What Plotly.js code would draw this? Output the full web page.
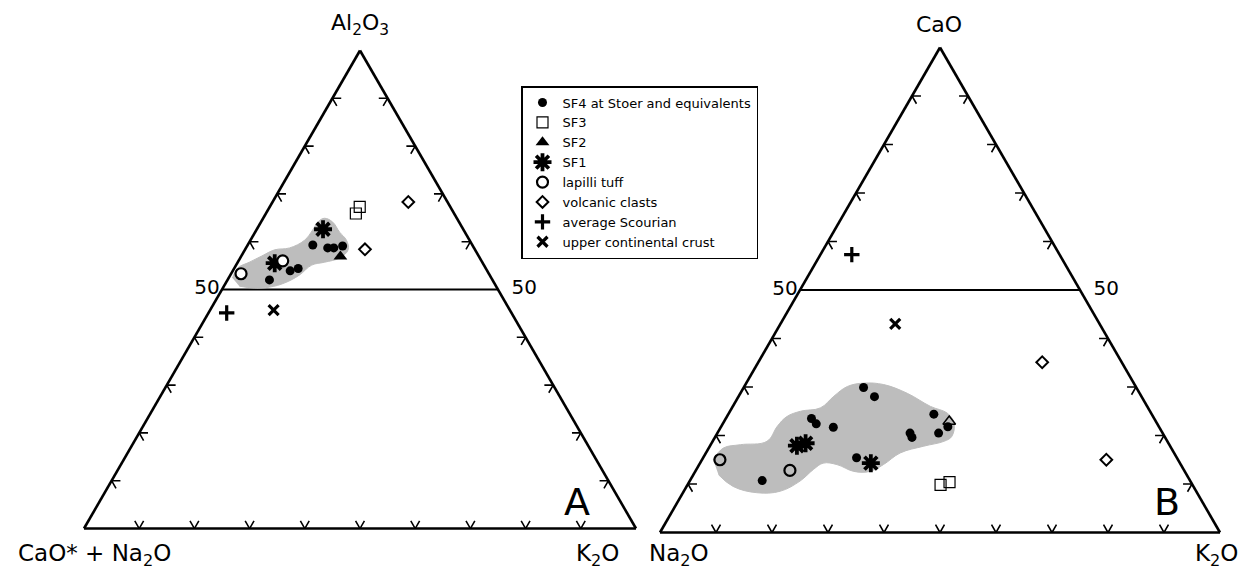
<!DOCTYPE html>
<html><head><meta charset="utf-8">
<script src="https://cdn.plot.ly/plotly-3.0.1.min.js"></script>
<style>html,body{margin:0;padding:0;background:#fff}#chart{width:1242px;height:573px}</style>
</head><body><div id="chart"></div>
<script>
// ---------- legend categories ----------
const SERIES = ["SF4 at Stoer and equivalents","SF3","SF2","SF1","lapilli tuff","volcanic clasts","average Scourian","upper continental crust"];

// ---------- Diagram A: Al2O3 (apex) / CaO*+Na2O (left) / K2O (right), % ----------
const A_SF4_Al2O3 = [52.0, 53.9, 54.4, 59.3, 58.7, 58.7, 59.1];
const A_SF4_CaNa  = [40.4, 35.7, 34.0, 28.9, 26.5, 25.4, 23.6];
const A_SF4_K2O   = [ 7.6, 10.4, 11.6, 11.8, 14.8, 15.9, 17.3];
const A_SF3_Al2O3 = [67.3, 65.9];
const A_SF3_CaNa  = [16.4, 17.8];
const A_SF3_K2O   = [16.3, 16.3];
const A_SF2_Al2O3 = [56.9];
const A_SF2_CaNa  = [25.1];
const A_SF2_K2O   = [18.0];
const A_SF1_Al2O3 = [55.5, 62.6];
const A_SF1_CaNa  = [37.7, 25.4];
const A_SF1_K2O   = [ 6.8, 12.0];
const A_LAP_Al2O3 = [53.3, 56.0];
const A_LAP_CaNa  = [44.9, 36.0];
const A_LAP_K2O   = [ 1.8,  8.0];
const A_VOL_Al2O3 = [68.3, 58.4];
const A_VOL_CaNa  = [ 7.1, 19.9];
const A_VOL_K2O   = [24.6, 21.7];
const A_SCO_Al2O3 = [45.1];
const A_SCO_CaNa  = [51.6];
const A_SCO_K2O   = [ 3.3];
const A_UCC_Al2O3 = [45.7];
const A_UCC_CaNa  = [42.8];
const A_UCC_K2O   = [11.5];
// shaded field outline (Al2O3, K2O)
const A_FIELD_Al2O3 = [52.4,54.5,55.7,57.0,58.3,58.7,60.3,62.4,64.1,64.9,64.1,62.0,60.3,58.3,56.6,55.7,55.1,53.0,51.4,50.5,50.3,50.7];
const A_FIELD_K2O   = [ 0.7, 0.6, 2.1, 3.7, 5.4, 7.9, 9.8,10.2,10.3,11.1,13.0,15.3,17.4,18.7,18.0,15.7,13.7,12.5,10.7, 8.4, 5.7, 2.8];

// ---------- Diagram B: CaO (apex) / Na2O (left) / K2O (right), % ----------
const B_SF4_CaO  = [10.7, 23.5, 22.4, 21.7, 29.9, 28.0, 15.4, 20.5, 19.6, 24.4, 20.5, 21.8];
const B_SF4_Na2O = [76.4, 61.2, 60.9, 58.2, 48.7, 47.7, 57.2, 45.1, 45.2, 38.9, 40.0, 37.7];
const B_SF4_K2O  = [12.9, 15.3, 16.7, 20.1, 21.4, 24.3, 27.4, 34.4, 35.2, 36.7, 39.5, 40.5];
const B_SF3_CaO  = [ 9.8, 10.4];
const B_SF3_Na2O = [45.0, 43.1];
const B_SF3_K2O  = [45.2, 46.5];
const B_SF2_CaO  = [22.9];
const B_SF2_Na2O = [36.9];
const B_SF2_K2O  = [40.2];
const B_SF1_CaO  = [17.9, 18.4, 14.3];
const B_SF1_Na2O = [66.6, 64.8, 55.2];
const B_SF1_K2O  = [15.5, 16.8, 30.5];
const B_LAP_CaO  = [15.0, 12.8];
const B_LAP_Na2O = [81.8, 70.4];
const B_LAP_K2O  = [ 3.2, 16.8];
const B_VOL_CaO  = [35.1, 15.0];
const B_VOL_Na2O = [14.2, 12.8];
const B_VOL_K2O  = [50.7, 72.2];
const B_SCO_CaO  = [57.3];
const B_SCO_Na2O = [37.1];
const B_SCO_K2O  = [ 5.6];
const B_UCC_CaO  = [43.0];
const B_UCC_Na2O = [36.5];
const B_UCC_K2O  = [20.5];
const B_FIELD_CaO = [15.0,17.4,18.1,18.8,21.9,23.9,25.0,25.7,28.1,30.1,30.8,30.5,28.7,26.0,24.6,22.6,19.8,18.8,17.8,16.4,14.0,12.6,12.6,14.0,14.3,13.0,10.6, 8.5, 8.2, 9.5,11.9];
const B_FIELD_K2O = [ 2.0, 2.6, 5.3, 9.7,10.0,10.7,12.6,15.8,17.0,18.4,21.0,24.7,29.8,35.3,39.0,41.2,42.2,41.3,38.2,34.7,32.9,31.2,28.3,24.6,22.0,20.9,19.7,17.2,13.2, 8.3, 4.5];

// ---------- tick positions on the triangle edges ----------
const EDGE_TICKS = [10,20,30,40,60,70,80,90];
const BASE_TICKS = [10,20,30,40,50,60,70,80,90];
const GRID_VALUE = [50];

const FONT = "DejaVu Sans";
const W = 1242, H = 573;

function tickTrace(sub){
  const a=[],b=[],c=[], L=1.6;
  function seg(p,d1,d2){
    a.push(p[0]+L*d1[0], p[0], p[0]+L*d2[0], null);
    b.push(p[1]+L*d1[1], p[1], p[1]+L*d2[1], null);
    c.push(p[2]+L*d1[2], p[2], p[2]+L*d2[2], null);
  }
  BASE_TICKS.forEach(t=>seg([0,100-t,t],[1,0,-1],[1,-1,0]));
  EDGE_TICKS.forEach(t=>seg([t,100-t,0],[0,-1,1],[-1,0,1]));
  EDGE_TICKS.forEach(t=>seg([t,0,100-t],[0,1,-1],[-1,1,0]));
  return {type:'scatterternary', subplot:sub, mode:'lines', a, b, c, connectgaps:false,
          line:{color:'#000', width:1.6}, showlegend:false, hoverinfo:'skip', cliponaxis:false};
}
function fieldTrace(sub, a, c){
  return {type:'scatterternary', subplot:sub, mode:'lines', a, c, fill:'toself',
          fillcolor:'#bdbdbd', line:{color:'#bdbdbd', width:1, shape:'spline', smoothing:1.1},
          showlegend:false, hoverinfo:'skip'};
}
function labelTrace(sub, left){
  const g = GRID_VALUE[0];
  return {type:'scatterternary', subplot:sub, mode:'markers+text',
          a:[g], b:[left ? 100-g : 0], c:[left ? 0 : 100-g], text:[String(g)],
          marker:{size: left ? 2 : 20, color:'rgba(0,0,0,0)'},
          textposition: left ? 'middle left' : 'middle right',
          textfont:{family:FONT,size:20,color:'#000'},
          showlegend:false, hoverinfo:'skip', cliponaxis:false};
}
const MK = [
  {symbol:'circle', size:9, color:'#000'},
  {symbol:'square-open', size:11, color:'#000', line:{width:1.2}},
  {symbol:'triangle-up', size:12, color:'#000'},
  {symbol:'asterisk-open', size:15, color:'#000', line:{width:3.8, color:'#000'}},
  {symbol:'circle', size:11, color:'#fff', line:{width:2.2, color:'#000'}},
  {symbol:'diamond-open', size:9, color:'#000', line:{width:2}},
  {symbol:'cross-thin-open', size:11, color:'#000', line:{width:3.2, color:'#000'}},
  {symbol:'x-thin-open', size:10, color:'#000', line:{width:3.2, color:'#000'}}
];
function pts(sub, i, a, b, c, show, marker){
  return {type:'scatterternary', subplot:sub, mode:'markers', name:SERIES[i], legendgroup:SERIES[i],
          a, b, c, marker: marker || MK[i], showlegend:show, cliponaxis:false, hoverinfo:'name+a+b+c'};
}

const traces = [
  fieldTrace('ternary', A_FIELD_Al2O3, A_FIELD_K2O),
  fieldTrace('ternary2', B_FIELD_CaO, B_FIELD_K2O),
  tickTrace('ternary'), tickTrace('ternary2'),
  labelTrace('ternary', true), labelTrace('ternary', false),
  labelTrace('ternary2', true), labelTrace('ternary2', false),
  pts('ternary',0,A_SF4_Al2O3,A_SF4_CaNa,A_SF4_K2O,true),
  pts('ternary',1,A_SF3_Al2O3,A_SF3_CaNa,A_SF3_K2O,true),
  pts('ternary',2,A_SF2_Al2O3,A_SF2_CaNa,A_SF2_K2O,true),
  pts('ternary',3,A_SF1_Al2O3,A_SF1_CaNa,A_SF1_K2O,true),
  pts('ternary',4,A_LAP_Al2O3,A_LAP_CaNa,A_LAP_K2O,true),
  pts('ternary',5,A_VOL_Al2O3,A_VOL_CaNa,A_VOL_K2O,true),
  pts('ternary',6,A_SCO_Al2O3,A_SCO_CaNa,A_SCO_K2O,true),
  pts('ternary',7,A_UCC_Al2O3,A_UCC_CaNa,A_UCC_K2O,true),
  pts('ternary2',0,B_SF4_CaO,B_SF4_Na2O,B_SF4_K2O,false),
  pts('ternary2',1,B_SF3_CaO,B_SF3_Na2O,B_SF3_K2O,false),
  pts('ternary2',2,B_SF2_CaO,B_SF2_Na2O,B_SF2_K2O,false,{symbol:'triangle-up-open', size:11, color:'#000', line:{width:1.5}}),
  pts('ternary2',3,B_SF1_CaO,B_SF1_Na2O,B_SF1_K2O,false),
  pts('ternary2',4,B_LAP_CaO,B_LAP_Na2O,B_LAP_K2O,false,{symbol:'circle-open', size:11, color:'#000', line:{width:2.2}}),
  pts('ternary2',5,B_VOL_CaO,B_VOL_Na2O,B_VOL_K2O,false),
  pts('ternary2',6,B_SCO_CaO,B_SCO_Na2O,B_SCO_K2O,false),
  pts('ternary2',7,B_UCC_CaO,B_UCC_Na2O,B_UCC_K2O,false)
];

const ax = {showline:true, linecolor:'#000', linewidth:2.6, ticks:'', showticklabels:false, showgrid:false, title:{text:''}, min:0};
const aax = Object.assign({}, ax, {showgrid:true, gridcolor:'#000', gridwidth:2, tickmode:'array', tickvals:GRID_VALUE});
function tern(x0,x1,yTop,yBot){
  return {sum:100, bgcolor:'#fff', domain:{x:[x0/W,x1/W], y:[(H-yBot)/H,(H-yTop)/H]},
          aaxis:aax, baxis:ax, caxis:ax};
}
function ann(text,x,y,size){
  return {text, x:x/W, y:(H-y)/H, xref:'paper', yref:'paper', xanchor:'center', yanchor:'middle',
          showarrow:false, font:{family:FONT, size, color:'#000'}};
}
const layout = {
  width:W, height:H, margin:{l:0,r:0,t:0,b:0,pad:0},
  paper_bgcolor:'#fff', font:{family:FONT, color:'#000'},
  ternary: tern(84,636,50,529),
  ternary2: tern(660,1220,47,533),
  showlegend:true,
  legend:{x:521/W, y:(H-86)/H, xanchor:'left', yanchor:'top', bgcolor:'#fff', bordercolor:'#000',
          borderwidth:1.5, font:{family:FONT, size:13, color:'#000'}, tracegroupgap:0,
          entrywidth:225, entrywidthmode:'pixels'},
  annotations:[
    ann('Al<sub>2</sub>O<sub>3</sub>',360,24,22),
    ann('CaO',939,24,22),
    ann('CaO* + Na<sub>2</sub>O',94,555,23),
    ann('K<sub>2</sub>O',597,555,23),
    ann('Na<sub>2</sub>O',679,555,23),
    ann('K<sub>2</sub>O',1216,555,23),
    ann('A',577,502,38),
    ann('B',1167,502,38)
  ]
};
Plotly.newPlot('chart', traces, layout, {displayModeBar:false, staticPlot:true});
</script></body></html>
